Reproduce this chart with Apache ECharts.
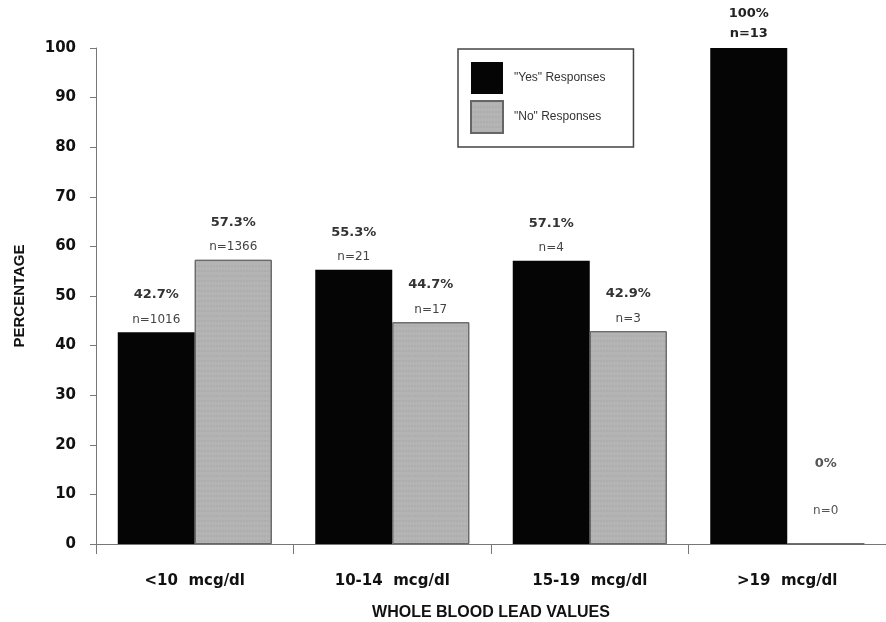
<!DOCTYPE html>
<html>
<head>
<meta charset="utf-8">
<script src="https://cdn.jsdelivr.net/npm/echarts@6/dist/echarts.min.js"></script>
<style>html,body{margin:0;padding:0;background:#fff}#c{width:886px;height:622px}</style>
</head>
<body>
<div id="c"></div>
<script>
var categories = ['<10  mcg/dl', '10-14  mcg/dl', '15-19  mcg/dl', '>19  mcg/dl'];
var yesPct = [42.7, 55.3, 57.1, 100];
var noPct = [57.3, 44.7, 42.9, 0];
var yesN = [1016, 21, 4, 13];
var noN = [1366, 17, 3, 0];
var yesLabels = ['42.7%', '55.3%', '57.1%', '100%'];
var noLabels = ['57.3%', '44.7%', '42.9%', '0%'];
var yTicks = [0, 10, 20, 30, 40, 50, 60, 70, 80, 90, 100];

var FONT = '"Liberation Sans", Arial, sans-serif';
var DJ = '"DejaVu Sans", sans-serif';
var rich = {
  p: {fontFamily: DJ, fontWeight: 'bold', fontSize: 13, color: '#333', lineHeight: 25},
  n: {fontFamily: DJ, fontSize: 12, color: '#444', lineHeight: 25}
};
function mk(vals) {
  return vals.map(function (v) {
    var item = {value: v};
    if (v >= 100) {
      item.label = {distance: 4, rich: {
        p: {fontFamily: DJ, fontWeight: 'bold', fontSize: 13, color: '#222', lineHeight: 20},
        n: {fontFamily: DJ, fontWeight: 'bold', fontSize: 13, color: '#222', lineHeight: 20}}};
    } else if (v === 0) {
      item.label = {distance: 9, rich: {
        p: {fontFamily: DJ, fontSize: 13, color: '#555', lineHeight: 47},
        n: {fontFamily: DJ, fontSize: 12, color: '#555', lineHeight: 47}}};
    }
    return item;
  });
}
var chart = echarts.init(document.getElementById('c'));
chart.setOption({
  animation: false,
  backgroundColor: '#fff',
  grid: {left: 96, right: 0, top: 48, bottom: 78, containLabel: false, outerBoundsMode: 'none'},
  legend: {
    orient: 'vertical', left: 458, top: 49,
    padding: [13, 28, 13, 12], itemGap: 6, itemWidth: 32, itemHeight: 32,
    borderColor: '#444', borderWidth: 1.5,
    textStyle: {fontFamily: FONT, fontSize: 12, color: '#333', padding: [0, 0, 0, 6]},
    data: [{name: '"Yes" Responses', icon: 'rect'}, {name: '"No" Responses', icon: 'rect'}]
  },
  xAxis: {
    type: 'category', data: categories,
    name: 'WHOLE BLOOD LEAD VALUES', nameLocation: 'middle', nameGap: 61,
    nameTextStyle: {fontFamily: FONT, fontWeight: 'bold', fontSize: 16, color: '#111'},
    axisLine: {lineStyle: {color: '#777', width: 1}},
    axisTick: {show: true, length: 10, lineStyle: {color: '#777'}},
    axisLabel: {margin: 30, fontFamily: DJ, fontWeight: 'bold', fontSize: 15, color: '#111'}
  },
  yAxis: {
    type: 'value', min: 0, max: 100, interval: 10,
    name: 'PERCENTAGE', nameLocation: 'middle', nameGap: 69,
    nameTextStyle: {fontFamily: FONT, fontWeight: 'bold', fontSize: 15, color: '#111'},
    axisLine: {show: true, lineStyle: {color: '#777', width: 1}},
    axisTick: {show: true, length: 6, lineStyle: {color: '#777'}},
    splitLine: {show: false},
    axisLabel: {margin: 20, fontFamily: DJ, fontWeight: 'bold', fontSize: 15, color: '#111',
      formatter: function (v) { return yTicks.indexOf(v) >= 0 ? String(v) : ''; }}
  },
  series: [
    {
      name: '"Yes" Responses', type: 'bar', barWidth: 77, barGap: '0%',
      itemStyle: {color: '#050505'},
      data: mk(yesPct),
      label: {show: true, position: 'top', distance: 0,
        formatter: function (p) { return '{p|' + yesLabels[p.dataIndex] + '}\n{n|n=' + yesN[p.dataIndex] + '}'; },
        rich: rich}
    },
    {
      name: '"No" Responses', type: 'bar', barWidth: 77,
      itemStyle: {color: '#b4b4b4', borderColor: '#666', borderWidth: 1,
        decal: {symbol: 'rect', symbolSize: 0.5, dashArrayX: [2, 1], dashArrayY: [2, 3], color: 'rgba(90,90,90,0.25)'}},
      data: mk(noPct),
      label: {show: true, position: 'top', distance: 0,
        formatter: function (p) { return '{p|' + noLabels[p.dataIndex] + '}\n{n|n=' + noN[p.dataIndex] + '}'; },
        rich: rich}
    }
  ]
});
</script>
</body>
</html>
